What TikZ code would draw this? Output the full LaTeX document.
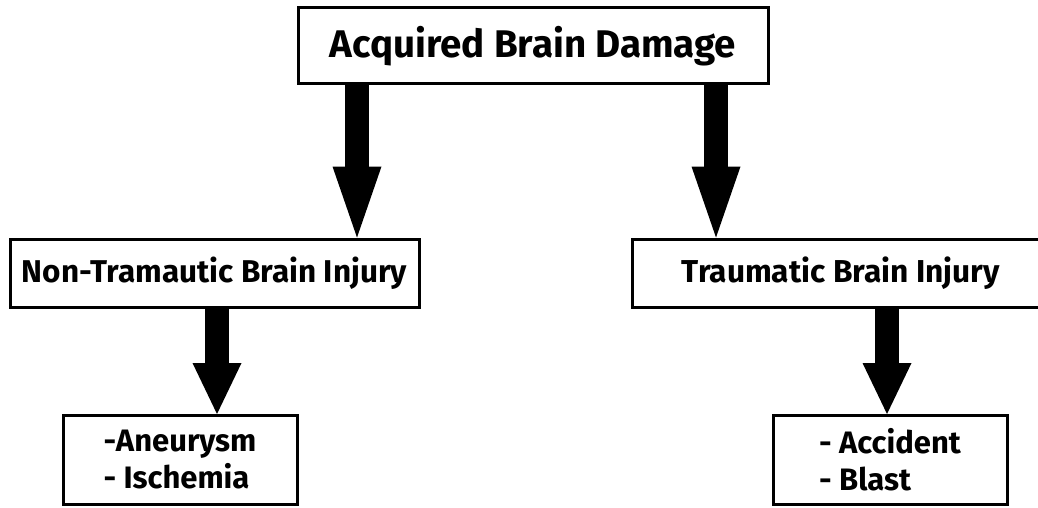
\documentclass[tikz,border=0pt]{standalone}
\usepackage{fontspec}
\setmainfont{Fira Sans}
\usepackage{graphicx}
\usetikzlibrary{arrows.meta}
\tikzset{
  box/.style={draw=black, line width=3pt, fill=white, rectangle, inner sep=0pt, font=\bfseries},
  leafbox/.style={box, minimum width=234pt, minimum height=89pt, align=left, font=\bfseries\fontsize{31}{37}\selectfont},
  bigarrow/.style={line width=24pt, -{Triangle[line width=0pt, length=71pt, width=49pt]}},
  smallarrow/.style={line width=24pt, -{Triangle[line width=0pt, length=51pt, width=49pt]}}
}
\begin{document}
\begin{tikzpicture}[x=1pt, y=-1pt]
\useasboundingbox (0,0) rectangle (1038,508);
\fill[white] (0,0) rectangle (1038,508);
\node[box, minimum width=470pt, minimum height=76pt] (top) at (533,46) {\resizebox{406pt}{!}{\bfseries Acquired Brain Damage}};
\node[box, minimum width=409pt, minimum height=68pt] (lm) at (214.5,273) {\resizebox{385pt}{!}{\bfseries Non-Tramautic Brain Injury}};
\node[box, minimum width=418pt, minimum height=68pt] (rm) at (841,273) {\resizebox{318pt}{!}{\bfseries Traumatic Brain Injury}};
\node[leafbox] (lb) at (180,460) {-Aneurysm\\- Ischemia};
\node[leafbox] (rb) at (890,460) {- Accident\\- Blast};
\coordinate (a1) at (357,0);
\coordinate (a2) at (716,0);
\coordinate (a3) at (217,0);
\coordinate (a4) at (887,0);
\draw[bigarrow] (top.south -| a1) -- (lm.north -| a1);
\draw[bigarrow] (top.south -| a2) -- (rm.north -| a2);
\draw[smallarrow] (lm.south -| a3) -- (lb.north -| a3);
\draw[smallarrow] (rm.south -| a4) -- (rb.north -| a4);
\end{tikzpicture}
\end{document}
